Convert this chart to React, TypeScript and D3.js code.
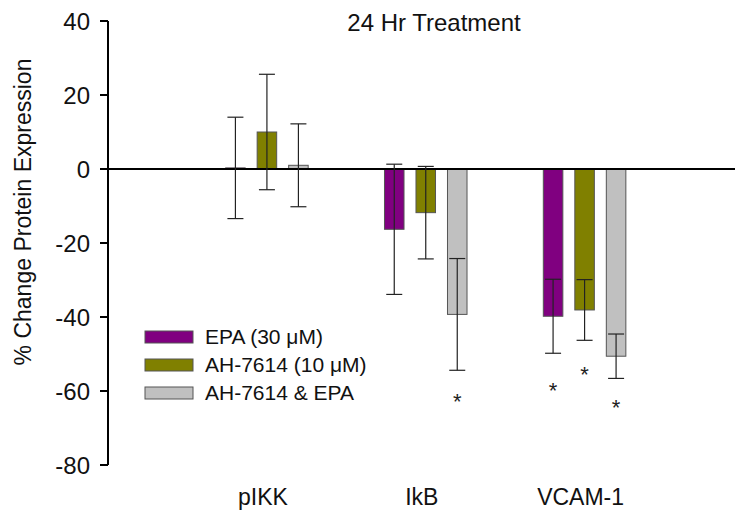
import React from "react";
import * as d3 from "d3";

// chart values
const categories = ["pIKK", "IkB", "VCAM-1"];
const seriesNames = ["EPA (30 μM)", "AH-7614 (10 μM)", "AH-7614 & EPA"];
const seriesColors = ["#800080", "#808000", "#c0c0c0"];

const epaMean = [0.3, -16.3, -39.8];
const epaSem = [13.7, 17.6, 10];
const ahMean = [10, -11.8, -38.1];
const ahSem = [15.6, 12.5, 8.2];
const comboMean = [1, -39.3, -50.6];
const comboSem = [11.2, 15.1, 6];

// where the significance stars sit (value units), null = none
const epaStar = [null, null, -59];
const ahStar = [null, null, -54.5];
const comboStar = [null, -62, -63.5];

const yTicks = [40, 20, 0, -20, -40, -60, -80];

const means = [epaMean, ahMean, comboMean];
const sems = [epaSem, ahSem, comboSem];
const stars = [epaStar, ahStar, comboStar];

const font = "'Liberation Sans', Arial, sans-serif";

export default function App() {
  const width = 735;
  const height = 512;
  const axisX = 108;

  const y = d3.scaleLinear().domain([-80, 40]).range([465, 21]);
  const x = d3.scaleBand<string>().domain(categories).range([187.5, 664]);
  const xs = d3
    .scaleBand<number>()
    .domain([0, 1, 2])
    .range([-47.25, 47.25])
    .paddingInner(0.38)
    .paddingOuter(0.19);

  const cx = (c: string) => (x(c) as number) + x.bandwidth() / 2;

  return (
    <svg
      width={width}
      height={height}
      style={{ position: "absolute", left: 0, top: 0, background: "#fff" }}
      fontFamily={font}
    >
      {/* title */}
      <text x={434} y={31} fontSize={24} textAnchor="middle" fill="#111">
        24 Hr Treatment
      </text>

      {/* y axis label */}
      <text
        transform={`translate(31,212) rotate(-90)`}
        fontSize={23}
        textAnchor="middle"
        fill="#111"
      >
        % Change Protein Expression
      </text>

      {/* bars */}
      {means.map((vals, s) =>
        categories.map((c, i) => {
          const bx = cx(c) + (xs(s) as number);
          const v = vals[i];
          const y0 = y(Math.max(0, v));
          const y1 = y(Math.min(0, v));
          return (
            <rect
              key={`b${s}-${i}`}
              x={bx}
              y={y0}
              width={xs.bandwidth()}
              height={Math.max(0.5, y1 - y0)}
              fill={seriesColors[s]}
              stroke="#555"
              strokeWidth={1}
            />
          );
        })
      )}

      {/* zero line */}
      <line x1={axisX} x2={width} y1={y(0)} y2={y(0)} stroke="#000" strokeWidth={2} />

      {/* error bars */}
      {means.map((vals, s) =>
        categories.map((c, i) => {
          const ex = cx(c) + (xs(s) as number) + xs.bandwidth() / 2;
          const top = y(vals[i] + sems[s][i]);
          const bot = y(vals[i] - sems[s][i]);
          return (
            <g key={`e${s}-${i}`} stroke="#222" strokeWidth={1.2}>
              <line x1={ex} x2={ex} y1={top} y2={bot} />
              <line x1={ex - 8} x2={ex + 8} y1={top} y2={top} />
              <line x1={ex - 8} x2={ex + 8} y1={bot} y2={bot} />
            </g>
          );
        })
      )}

      {/* significance stars */}
      {stars.map((vals, s) =>
        categories.map((c, i) => {
          const v = vals[i];
          if (v === null) return null;
          const ex = cx(c) + (xs(s) as number) + xs.bandwidth() / 2;
          return (
            <text
              key={`s${s}-${i}`}
              x={ex}
              y={y(v) + 11}
              fontSize={22}
              textAnchor="middle"
              fill="#222"
            >
              *
            </text>
          );
        })
      )}

      {/* y axis */}
      <line x1={axisX} x2={axisX} y1={y(40)} y2={y(-80)} stroke="#000" strokeWidth={2} />
      {yTicks.map((t) => (
        <g key={t}>
          <line x1={axisX - 8} x2={axisX} y1={y(t)} y2={y(t)} stroke="#000" strokeWidth={2} />
          <text
            x={90}
            y={y(t) + 8.5}
            fontSize={24}
            textAnchor="end"
            fill="#111"
          >
            {t}
          </text>
        </g>
      ))}

      {/* category labels */}
      {categories.map((c) => (
        <text key={c} x={cx(c) - 4} y={505} fontSize={23} textAnchor="middle" fill="#111">
          {c}
        </text>
      ))}

      {/* legend */}
      {seriesNames.map((n, s) => (
        <g key={n} transform={`translate(145,${331 + s * 28})`}>
          <rect width={48} height={12} fill={seriesColors[s]} stroke="#555" strokeWidth={1} />
          <text x={60} y={13} fontSize={21} fill="#111">
            {n}
          </text>
        </g>
      ))}
    </svg>
  );
}
